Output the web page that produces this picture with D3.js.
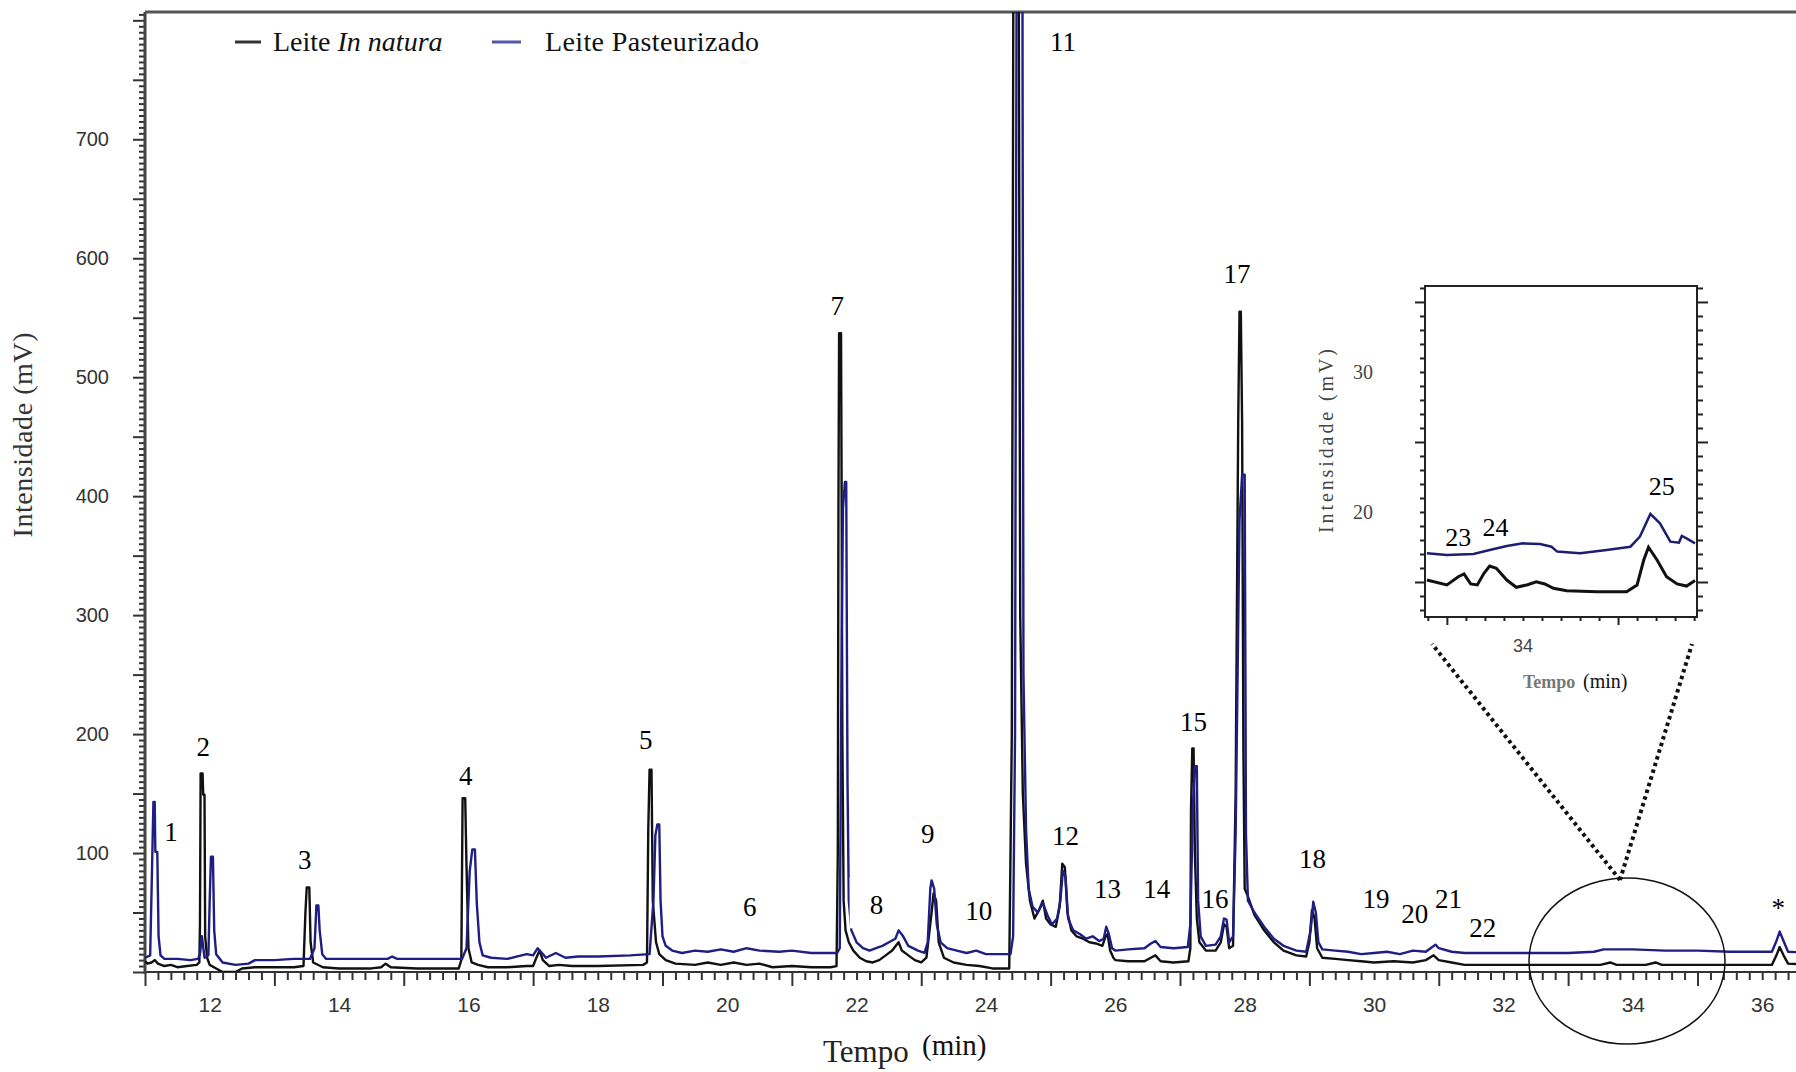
<!DOCTYPE html>
<html>
<head>
<meta charset="utf-8">
<script src="https://cdn.jsdelivr.net/npm/d3@7"></script>
<style>
  body { margin: 0; background: #fff; }
  svg { display: block; }
  .serif { font-family: "Liberation Serif", "Times New Roman", serif; }
  .sans { font-family: "Liberation Sans", Arial, sans-serif; }
</style>
</head>
<body>
<div id="chart"></div>
<script>
// chromatogram traces: [tempo (min), intensidade (mV)]
var inNatura = [
  [11.00, 9], [11.04, 7], [11.10, 8], [11.15, 10], [11.20, 7], [11.30, 5], [11.40, 6], [11.50, 4], [11.65, 5], [11.80, 6],
  [11.84, 8], [11.85, 40], [11.86, 167], [11.89, 167], [11.90, 149], [11.92, 149], [11.93, 30], [11.96, 12], [12.00, 6], [12.10, 3],
  [12.20, 0], [12.40, 0], [12.50, 3], [12.70, 4], [13.00, 4], [13.30, 4], [13.45, 5],
  [13.48, 50], [13.50, 71], [13.54, 71], [13.56, 25], [13.60, 8], [13.75, 4], [14.00, 3], [14.50, 3], [14.65, 4], [14.72, 7], [14.80, 4], [15.20, 3], [15.85, 3],
  [15.89, 10], [15.91, 146], [15.95, 146], [15.97, 90], [16.00, 20], [16.05, 8], [16.15, 6], [16.30, 4], [16.60, 4], [16.90, 5], [17.00, 5],
  [17.05, 12], [17.10, 18], [17.15, 10], [17.25, 5], [17.40, 6], [17.60, 5], [18.00, 5], [18.70, 6],
  [18.76, 8], [18.78, 120], [18.80, 170], [18.83, 170], [18.85, 60], [18.90, 25], [18.95, 15], [19.05, 10], [19.20, 7], [19.50, 6],
  [19.70, 8], [19.90, 6], [20.10, 8], [20.30, 6], [20.50, 7], [20.70, 4], [21.00, 5], [21.30, 4], [21.60, 4], [21.69, 5],
  [21.71, 100], [21.72, 390], [21.73, 537], [21.76, 537], [21.77, 390], [21.78, 200], [21.80, 60], [21.83, 35], [21.88, 25], [21.95, 18],
  [22.05, 12], [22.15, 9], [22.25, 8], [22.35, 10], [22.45, 14], [22.55, 18], [22.65, 25], [22.70, 18], [22.80, 14], [22.90, 10], [23.00, 8], [23.08, 12],
  [23.16, 50], [23.19, 66], [23.23, 60], [23.27, 25], [23.35, 12], [23.50, 8], [23.70, 6], [23.90, 5], [24.10, 3], [24.36, 3],
  [24.40, 200], [24.43, 1000], [24.50, 1000], [24.53, 300], [24.57, 150], [24.62, 91], [24.68, 60], [24.75, 45], [24.82, 52], [24.88, 60],
  [24.93, 45], [25.00, 40], [25.08, 38], [25.14, 55], [25.18, 91], [25.22, 88], [25.26, 50], [25.32, 35], [25.40, 30], [25.50, 28],
  [25.60, 25], [25.70, 24], [25.80, 22], [25.85, 30], [25.88, 32], [25.92, 18], [25.97, 12], [26.00, 10], [26.20, 9], [26.45, 9],
  [26.55, 12], [26.62, 14], [26.70, 9], [26.90, 8], [27.13, 9],
  [27.16, 20], [27.17, 136], [27.19, 188], [27.21, 188], [27.23, 100], [27.26, 45], [27.30, 25], [27.40, 18], [27.55, 18], [27.63, 25],
  [27.68, 40], [27.72, 38], [27.76, 20], [27.82, 22], [27.86, 150], [27.90, 463], [27.92, 555], [27.94, 555], [27.96, 463], [27.98, 186],
  [28.00, 70], [28.04, 65], [28.15, 48], [28.30, 35], [28.45, 25], [28.60, 18], [28.80, 14], [28.95, 13], [29.00, 25], [29.04, 52],
  [29.08, 45], [29.12, 20], [29.20, 12], [29.40, 11], [29.60, 10], [29.80, 9], [30.00, 8], [30.30, 9], [30.60, 8], [30.80, 10],
  [30.92, 14], [31.00, 10], [31.20, 8], [31.40, 6], [33.00, 6], [33.50, 6], [33.65, 8], [33.75, 6], [34.20, 6], [34.35, 8],
  [34.45, 6], [35.00, 6], [36.15, 6], [36.22, 14], [36.27, 21], [36.33, 14], [36.40, 7], [36.80, 6]
];

var pasteurizado = [
  [11.00, 12], [11.08, 14], [11.11, 90], [11.13, 143], [11.15, 143], [11.16, 101], [11.19, 101], [11.21, 30], [11.24, 14], [11.30, 11],
  [11.50, 11], [11.70, 10], [11.82, 11], [11.85, 15], [11.88, 30], [11.92, 12], [11.98, 14], [12.00, 60], [12.02, 97], [12.05, 97],
  [12.07, 35], [12.10, 15], [12.20, 8], [12.40, 6], [12.60, 7], [12.70, 10], [13.00, 10], [13.30, 11], [13.55, 11], [13.62, 20],
  [13.65, 56], [13.68, 56], [13.70, 35], [13.74, 15], [13.80, 11], [14.00, 11], [14.75, 11], [14.82, 13], [14.90, 11], [15.90, 11],
  [15.97, 20], [16.02, 85], [16.06, 103], [16.10, 103], [16.13, 57], [16.17, 25], [16.22, 14], [16.35, 12], [16.60, 11], [16.90, 15],
  [17.00, 14], [17.07, 20], [17.12, 17], [17.20, 12], [17.35, 16], [17.50, 12], [17.70, 13], [18.00, 13], [18.50, 14], [18.80, 15],
  [18.86, 60], [18.89, 115], [18.92, 124], [18.95, 124], [18.97, 60], [19.00, 30], [19.05, 22], [19.15, 18], [19.30, 16], [19.50, 18],
  [19.70, 17], [19.90, 19], [20.10, 17], [20.30, 20], [20.50, 18], [20.80, 17], [21.00, 18], [21.30, 16], [21.70, 16],
  [21.74, 20], [21.77, 280], [21.79, 390], [21.82, 412], [21.84, 412], [21.86, 160], [21.88, 60], [21.92, 35], [22.00, 25], [22.10, 20],
  [22.20, 18], [22.30, 20], [22.40, 22], [22.50, 25], [22.60, 28], [22.65, 35], [22.72, 30], [22.80, 22], [22.95, 18], [23.05, 16],
  [23.10, 25], [23.14, 70], [23.16, 77], [23.20, 70], [23.24, 40], [23.30, 25], [23.40, 20], [23.55, 18], [23.70, 16], [23.85, 18],
  [24.00, 15], [24.38, 15],
  [24.42, 30], [24.45, 200], [24.48, 1000], [24.56, 1000], [24.58, 250], [24.62, 120], [24.66, 70], [24.72, 55], [24.80, 50], [24.88, 58],
  [24.95, 48], [25.02, 40], [25.10, 45], [25.15, 60], [25.19, 85], [25.23, 80], [25.27, 45], [25.35, 35], [25.45, 32], [25.55, 28],
  [25.65, 30], [25.75, 26], [25.82, 28], [25.86, 38], [25.90, 32], [25.95, 20], [26.00, 18], [26.20, 19], [26.45, 20], [26.55, 24],
  [26.62, 26], [26.70, 21], [26.90, 20], [27.12, 21],
  [27.16, 40], [27.20, 140], [27.23, 173], [27.26, 173], [27.28, 60], [27.32, 30], [27.40, 22], [27.55, 23], [27.63, 30], [27.68, 45],
  [27.72, 44], [27.76, 25], [27.82, 30], [27.86, 116], [27.92, 380], [27.96, 418], [28.00, 418], [28.02, 116], [28.05, 60], [28.15, 50],
  [28.30, 38], [28.45, 28], [28.60, 22], [28.80, 18], [28.95, 17], [29.02, 35], [29.06, 59], [29.10, 50], [29.14, 25], [29.20, 19],
  [29.40, 18], [29.60, 17], [29.80, 15], [30.00, 16], [30.20, 17], [30.40, 15], [30.60, 18], [30.80, 17], [30.90, 21], [30.95, 23],
  [31.00, 20], [31.20, 17], [31.40, 16], [33.00, 16], [33.40, 17], [33.55, 19], [34.00, 19], [34.50, 18], [35.00, 18], [35.50, 17],
  [36.15, 17], [36.22, 26], [36.27, 34], [36.33, 26], [36.40, 17], [36.80, 16]
];

// zoomed window around 33-36 min
var insetInNatura = [
  [32.99, 15.14], [33.20, 14.79], [33.32, 15.38], [33.38, 15.57], [33.45, 14.86], [33.52, 14.79], [33.59, 15.62], [33.65, 16.14],
  [33.72, 15.98], [33.83, 15.14], [33.93, 14.62], [34.04, 14.79], [34.14, 15.02], [34.23, 14.86], [34.32, 14.55], [34.46, 14.38],
  [34.78, 14.31], [35.09, 14.31], [35.20, 14.79], [35.27, 16.57], [35.32, 17.48], [35.41, 16.57], [35.51, 15.38], [35.62, 14.86],
  [35.72, 14.71], [35.81, 15.10]
];
var insetPasteurizado = [
  [32.99, 17.05], [33.20, 16.93], [33.48, 17.00], [33.65, 17.29], [33.83, 17.57], [34.00, 17.76], [34.18, 17.71], [34.30, 17.52],
  [34.36, 17.17], [34.60, 17.05], [34.88, 17.29], [35.13, 17.52], [35.23, 18.24], [35.34, 19.86], [35.44, 19.19], [35.55, 17.88],
  [35.64, 17.81], [35.67, 18.29], [35.72, 18.12], [35.81, 17.76]
];

// peak numbers: [label, tempo, mV]
var peakLabels = [
  ["1", 11.40, 118], ["2", 11.90, 189], ["3", 13.47, 94], ["4", 15.96, 165], ["5", 18.74, 195], ["6", 20.35, 55],
  ["7", 21.70, 560], ["8", 22.31, 56], ["9", 23.10, 116], ["10", 23.89, 51], ["11", 25.19, 782], ["12", 25.23, 114],
  ["13", 25.88, 70], ["14", 26.64, 70], ["15", 27.21, 210], ["16", 27.54, 61], ["17", 27.88, 587], ["18", 29.05, 95],
  ["19", 30.03, 61], ["20", 30.63, 49], ["21", 31.15, 61], ["22", 31.68, 37], ["*", 36.25, 54]
];
var insetPeakLabels = [["23", 33.32, 18.2], ["24", 33.71, 18.9], ["25", 35.46, 21.8]];

var xTickLabels = [12, 14, 16, 18, 20, 22, 24, 26, 28, 30, 32, 34, 36];
var yTickLabels = [100, 200, 300, 400, 500, 600, 700];
var insetXTickLabels = [34];
var insetYTickLabels = [20, 30];

var width = 1796, height = 1072;
var plotLeft = 145, plotTop = 12, plotBottom = 972;

var svg = d3.select('#chart').append('svg')
  .attr('width', width)
  .attr('height', height);

svg.append('rect').attr('width', width).attr('height', height).attr('fill', '#fff');

var x = d3.scaleLinear().domain([11, 36.77]).range([plotLeft, 1812]);
var y = d3.scaleLinear().domain([0, 807]).range([plotBottom, plotTop]);

svg.append('clipPath').attr('id', 'plotClip')
  .append('rect')
  .attr('x', plotLeft).attr('y', plotTop)
  .attr('width', width - plotLeft).attr('height', plotBottom - plotTop);

// x ticks: small every 0.2 min, long ones on the odd minutes
var xMinor = d3.range(0, 129).map(function(i) { return 11 + i * 0.2; });
var isOdd = function(t) { return Math.abs(t - Math.round(t)) < 1e-6 && Math.round(t) % 2 === 1; };

var gx = svg.append('g').attr('transform', 'translate(0,' + plotBottom + ')')
  .call(d3.axisBottom(x).tickValues(xMinor).tickSize(8).tickFormat(''));
gx.select('.domain').remove();
gx.selectAll('.tick line')
  .attr('stroke', '#333').attr('stroke-width', 2)
  .attr('y2', function(d) { return isOdd(d) ? 14 : 8; });

var gxLab = svg.append('g').attr('transform', 'translate(0,' + plotBottom + ')')
  .call(d3.axisBottom(x).tickValues(xTickLabels).tickSize(0).tickPadding(25).tickFormat(d3.format('d')));
gxLab.select('.domain').remove();
gxLab.selectAll('text')
  .attr('class', 'sans').attr('font-size', 21).attr('fill', '#333');

// y ticks: small every 5 mV, long every 50
var gy = svg.append('g').attr('transform', 'translate(' + plotLeft + ',0)')
  .call(d3.axisLeft(y).tickValues(d3.range(0, 806, 5)).tickSize(6).tickFormat(''));
gy.select('.domain').remove();
gy.selectAll('.tick line')
  .attr('stroke', '#333').attr('stroke-width', 2)
  .attr('x2', function(d) { return d % 50 === 0 ? -12 : -6; });

var gyLab = svg.append('g').attr('transform', 'translate(' + plotLeft + ',0)')
  .call(d3.axisLeft(y).tickValues(yTickLabels).tickSize(0).tickPadding(36));
gyLab.select('.domain').remove();
gyLab.selectAll('text')
  .attr('class', 'sans').attr('font-size', 20).attr('fill', '#333');

// frame: left axis, bottom axis and the top border
svg.append('line').attr('x1', plotLeft).attr('x2', width).attr('y1', plotBottom).attr('y2', plotBottom)
  .attr('stroke', '#333').attr('stroke-width', 2);
svg.append('line').attr('x1', plotLeft).attr('x2', plotLeft).attr('y1', plotTop).attr('y2', plotBottom + 2)
  .attr('stroke', '#444').attr('stroke-width', 3);
svg.append('line').attr('x1', plotLeft).attr('x2', width).attr('y1', plotTop).attr('y2', plotTop)
  .attr('stroke', '#555').attr('stroke-width', 3);

var line = d3.line()
  .x(function(d) { return x(d[0]); })
  .y(function(d) { return y(d[1]); });

var traces = svg.append('g').attr('clip-path', 'url(#plotClip)');
traces.append('path').datum(inNatura)
  .attr('d', line).attr('fill', 'none')
  .attr('stroke', '#111').attr('stroke-width', 2.4).attr('stroke-linejoin', 'round');
traces.append('path').datum(pasteurizado)
  .attr('d', line).attr('fill', 'none')
  .attr('stroke', '#1e1e84').attr('stroke-width', 2.4).attr('stroke-linejoin', 'round');

// white patch behind label 8, as in the scanned figure
svg.append('rect')
  .attr('x', x(22.31) - 27).attr('y', y(56) - 28)
  .attr('width', 54).attr('height', 51)
  .attr('fill', '#fff');

svg.append('g').selectAll('text')
  .data(peakLabels)
  .enter()
  .append('text')
  .attr('class', 'serif')
  .attr('x', function(d) { return x(d[1]); })
  .attr('y', function(d) { return y(d[2]); })
  .attr('text-anchor', 'middle')
  .attr('dominant-baseline', 'central')
  .attr('font-size', 27)
  .attr('fill', '#000')
  .text(function(d) { return d[0]; });

// legend
svg.append('line').attr('x1', 235).attr('x2', 261).attr('y1', 42).attr('y2', 42)
  .attr('stroke', '#333').attr('stroke-width', 3);
var leg1 = svg.append('text').attr('class', 'serif')
  .attr('x', 273).attr('y', 51).attr('font-size', 28).attr('fill', '#111');
leg1.append('tspan').text('Leite ');
leg1.append('tspan').attr('font-style', 'italic').text('In natura');

svg.append('line').attr('x1', 492).attr('x2', 521).attr('y1', 42).attr('y2', 42)
  .attr('stroke', '#5656a8').attr('stroke-width', 3);
svg.append('text').attr('class', 'serif')
  .attr('x', 545).attr('y', 51).attr('font-size', 28).attr('fill', '#111')
  .attr('textLength', 214)
  .text('Leite Pasteurizado');

// axis titles
svg.append('text').attr('class', 'serif')
  .attr('transform', 'translate(32,435) rotate(-90)')
  .attr('text-anchor', 'middle')
  .attr('font-size', 28).attr('fill', '#333')
  .attr('textLength', 205)
  .text('Intensidade (mV)');

svg.append('text').attr('class', 'serif')
  .attr('x', 823).attr('y', 1062).attr('font-size', 31).attr('fill', '#222')
  .text('Tempo');
svg.append('text').attr('class', 'serif')
  .attr('x', 922).attr('y', 1055).attr('font-size', 29).attr('fill', '#111')
  .text('(min)');

// magnifier ellipse and dotted guide lines
svg.append('ellipse')
  .attr('cx', 1627).attr('cy', 961).attr('rx', 98).attr('ry', 83)
  .attr('fill', 'none').attr('stroke', '#111').attr('stroke-width', 1.5);

var apex = [1620, 880];
[[1432, 644], [1692, 644]].forEach(function(p) {
  svg.append('line')
    .attr('x1', apex[0]).attr('y1', apex[1]).attr('x2', p[0]).attr('y2', p[1])
    .attr('stroke', '#111').attr('stroke-width', 4)
    .attr('stroke-dasharray', '3.5,3.5');
});

// inset chart
var ix = d3.scaleLinear().domain([32.97, 35.83]).range([1425, 1697]);
var iy = d3.scaleLinear().domain([12.5, 36.14]).range([617, 286]);

svg.append('rect')
  .attr('x', 1425).attr('y', 286).attr('width', 1697 - 1425).attr('height', 617 - 286)
  .attr('fill', '#fff').attr('stroke', '#222').attr('stroke-width', 2);

var iyTicks = d3.range(13, 37);
var iMajor = function(d) { return d % 10 === 5; };

var giL = svg.append('g').attr('transform', 'translate(1425,0)')
  .call(d3.axisLeft(iy).tickValues(iyTicks).tickFormat(''));
giL.select('.domain').remove();
giL.selectAll('.tick line').attr('stroke', '#222').attr('stroke-width', 2)
  .attr('x2', function(d) { return iMajor(d) ? -10 : -5; });

var giR = svg.append('g').attr('transform', 'translate(1697,0)')
  .call(d3.axisRight(iy).tickValues(iyTicks).tickFormat(''));
giR.select('.domain').remove();
giR.selectAll('.tick line').attr('stroke', '#222').attr('stroke-width', 2)
  .attr('x2', function(d) { return iMajor(d) ? 11 : 6; });

var ixTicks = d3.range(0, 15).map(function(i) { return 33 + i * 0.2; });
var giB = svg.append('g').attr('transform', 'translate(0,617)')
  .call(d3.axisBottom(ix).tickValues(ixTicks).tickFormat(''));
giB.select('.domain').remove();
giB.selectAll('.tick line').attr('stroke', '#222').attr('stroke-width', 2)
  .attr('y2', function(d) { return (Math.abs(d - 33.2) < 1e-6 || Math.abs(d - 35) < 1e-6) ? 8 : 4; });

svg.append('g').selectAll('text')
  .data(insetXTickLabels)
  .enter().append('text')
  .attr('class', 'sans')
  .attr('x', function(d) { return ix(d); }).attr('y', 652)
  .attr('text-anchor', 'middle').attr('font-size', 18).attr('fill', '#444')
  .text(function(d) { return d; });

// the scanned inset has its labels offset from the ticks; keep that placement
svg.append('g').selectAll('text')
  .data(insetYTickLabels)
  .enter().append('text')
  .attr('class', 'serif')
  .attr('x', 1363).attr('y', function(d) { return iy(d); })
  .attr('text-anchor', 'middle').attr('dominant-baseline', 'central')
  .attr('font-size', 20).attr('fill', '#444')
  .text(function(d) { return d; });

svg.append('text').attr('class', 'serif')
  .attr('transform', 'translate(1333,441) rotate(-90)')
  .attr('text-anchor', 'middle')
  .attr('font-size', 20).attr('fill', '#444')
  .attr('textLength', 184)
  .text('Intensidade (mV)');

svg.append('text').attr('class', 'serif')
  .attr('x', 1523).attr('y', 688).attr('font-size', 18).attr('fill', '#777')
  .attr('font-weight', 'bold')
  .text('Tempo');
svg.append('text').attr('class', 'serif')
  .attr('x', 1583).attr('y', 688).attr('font-size', 20).attr('fill', '#111')
  .text('(min)');

var iline = d3.line()
  .x(function(d) { return ix(d[0]); })
  .y(function(d) { return iy(d[1]); });

svg.append('path').datum(insetPasteurizado)
  .attr('d', iline).attr('fill', 'none')
  .attr('stroke', '#1e1e70').attr('stroke-width', 2.5);
svg.append('path').datum(insetInNatura)
  .attr('d', iline).attr('fill', 'none')
  .attr('stroke', '#111').attr('stroke-width', 3);

svg.append('g').selectAll('text')
  .data(insetPeakLabels)
  .enter().append('text')
  .attr('class', 'serif')
  .attr('x', function(d) { return ix(d[1]); })
  .attr('y', function(d) { return iy(d[2]); })
  .attr('text-anchor', 'middle').attr('dominant-baseline', 'central')
  .attr('font-size', 26).attr('fill', '#000')
  .text(function(d) { return d[0]; });
</script>
</body>
</html>
